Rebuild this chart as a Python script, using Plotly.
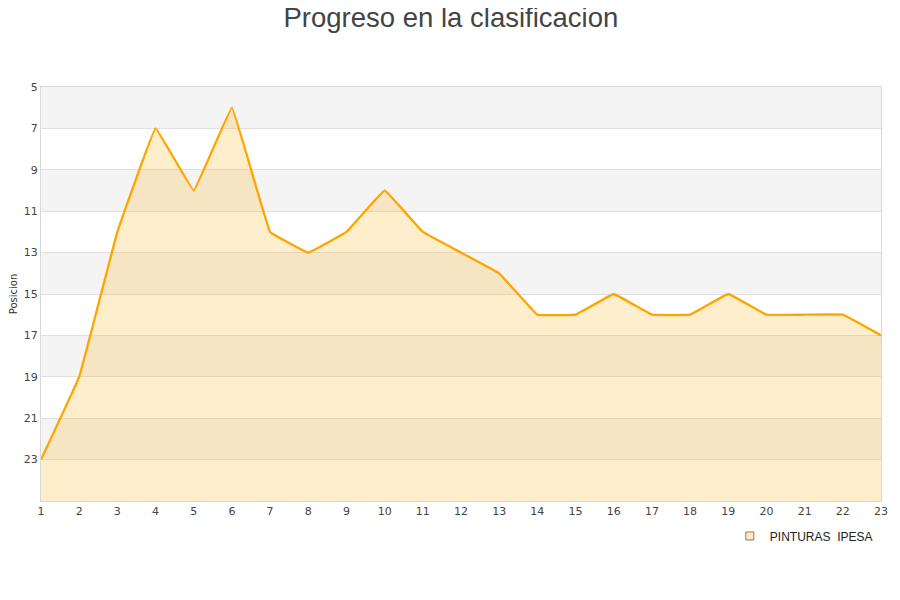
import plotly.graph_objects as go

jornadas = list(range(1, 24))
posicion = [23, 19, 12, 7, 10, 6, 12, 13, 12, 10, 12, 13, 14, 16, 16, 15, 16, 16, 15, 16, 16, 16, 17]
equipo = "PINTURAS  IPESA"
y_ticks = [5, 7, 9, 11, 13, 15, 17, 19, 21, 23]
y_fondo = 25

fig = go.Figure()

# baseline para rellenar hacia abajo (eje invertido)
fig.add_trace(go.Scatter(x=jornadas, y=[y_fondo] * len(jornadas), mode="lines",
                         line=dict(width=0), showlegend=False, hoverinfo="skip"))
fig.add_trace(go.Scatter(x=jornadas, y=posicion, mode="lines", fill="tonexty",
                         fillcolor="rgba(255,170,0,0.2)",
                         line=dict(color="#ffa500", width=2.3, shape="spline", smoothing=0.15),
                         showlegend=False))
# entrada de leyenda
fig.add_trace(go.Scatter(x=[None], y=[None], mode="markers", name=equipo,
                         marker=dict(symbol="square", size=8, color="#fee8c0",
                                     line=dict(color="#8a7a60", width=1))))

# bandas alternas
for t in y_ticks[::2]:
    fig.add_shape(type="rect", xref="paper", yref="y", x0=0, x1=1, y0=t, y1=t + 2,
                  fillcolor="#f4f4f4", line_width=0, layer="below")

# la página tiene un margen de ~7px, se compensa aquí
fig.update_layout(
    width=893, height=593,
    margin=dict(l=33, r=20, t=79, b=100, autoexpand=False),
    paper_bgcolor="white", plot_bgcolor="white",
    title=dict(text="Progreso en la clasificacion", x=0.496, xanchor="center", y=1.0, yanchor="top",
               font=dict(family="Liberation Sans, Arial", size=27.5, color="#444")),
    font=dict(family="DejaVu Sans", size=11, color="#444"),
    legend=dict(x=0.820, y=-0.0845, xanchor="left", yanchor="middle",
                font=dict(family="Liberation Sans, Arial", size=12, color="#222")),
)
fig.update_xaxes(range=[1, 23], tickvals=jornadas, showgrid=False, zeroline=False, automargin=False,
                 showline=True, linecolor="#d8d8d8", mirror=True, ticks="", ticklen=0)
fig.update_yaxes(range=[y_fondo, 5], tickvals=y_ticks, showgrid=True, gridcolor="#e0e0e0",
                 zeroline=False, showline=True, linecolor="#d8d8d8", mirror=True, automargin=False,
                 title=dict(text="Posicion", font=dict(size=10, color="#333")))

fig.write_html("out.html")
